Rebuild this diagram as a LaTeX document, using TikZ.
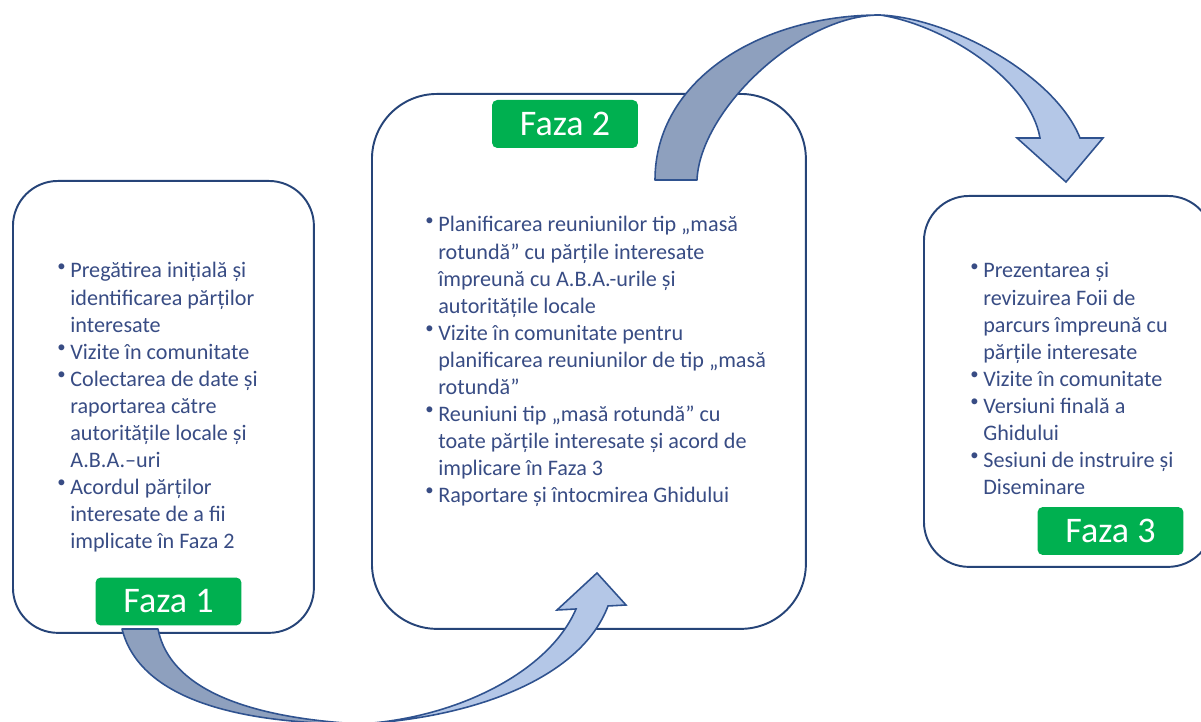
\documentclass[tikz,border=0pt]{standalone}
\usepackage{fontspec}
\setmainfont{Carlito}
\usetikzlibrary{positioning}
\definecolor{frameColor}{RGB}{38,68,120}
\definecolor{arrowLine}{RGB}{47,82,143}
\definecolor{arrowBack}{RGB}{142,160,190}
\definecolor{arrowFront}{RGB}{180,199,231}
\definecolor{phaseGreen}{RGB}{0,176,80}
\definecolor{itemColor}{RGB}{56,76,132}
\tikzstyle{phasebox} = [draw=frameColor, line width=1.1pt, anchor=north west, inner sep=0pt]
\tikzstyle{phaselabel} = [fill=phaseGreen, rounded corners=3pt, text=white, font=\fontsize{20.5}{24}\selectfont, minimum width=2.92cm, minimum height=0.96cm, inner sep=0pt]
\tikzstyle{itemlist} = [anchor=base west, inner sep=0pt, text=itemColor, font=\fontsize{12.6}{15.4}\selectfont]
\tikzstyle{bandback} = [fill=arrowBack, draw=arrowLine, line width=0.9pt, line join=round]
\tikzstyle{bandfront} = [fill=arrowFront, draw=arrowLine, line width=0.9pt]
\newcommand{\pbul}{\makebox[7.4pt][l]{\raisebox{3.8pt}{\fontsize{9.5}{9.5}\selectfont\textbullet}}}

\begin{document}
\begin{tikzpicture}[x=0.02cm, y=-0.02cm]
    \useasboundingbox (0,0) rectangle (1201,722);
    \fill[white] (0,0) rectangle (1201,722);
    \clip (0,0) rectangle (1201,722);

    % Phase boxes
    \node[phasebox, rounded corners=0.9cm, minimum width=6.02cm, minimum height=9.04cm] (box1) at (12,180) {};
    \node[phasebox, rounded corners=1.3cm, minimum width=8.68cm, minimum height=10.7cm] (box2) at (371,93) {};
    \node[phasebox, rounded corners=0.9cm, minimum width=5.78cm, minimum height=7.42cm] (box3) at (923,195) {};

    % Curved arrows
    \filldraw[bandback] (122,629) .. controls (140,700) and (240,724) .. (360,724)
        .. controls (250,718) and (170,690) .. (158,629) -- cycle;
    \filldraw[bandfront] (360,724) .. controls (470,718) and (580,680) .. (608,606)
        -- (626,605) -- (597,573) -- (557,610) -- (576,609)
        .. controls (550,670) and (460,718) .. (360,724) -- cycle;
    \filldraw[bandback] (655,180) .. controls (655,80) and (760,15) .. (880,15)
        .. controls (800,15) and (700,110) .. (697,180) -- cycle;
    \filldraw[bandfront] (880,15) .. controls (950,18) and (1055,75) .. (1080,138)
        -- (1103,138) -- (1066,182) -- (1017,138) -- (1040,138)
        .. controls (1030,80) and (945,25) .. (880,15) -- cycle;

    % Phase labels
    \node[phaselabel] (faza1) at (168.5,601.5) {Faza 1};
    \node[phaselabel] (faza2) at (565,124) {Faza 2};
    \node[phaselabel] (faza3) at (1110.5,531) {Faza 3};

    % Activities
    \node[itemlist] (list1) at (57,278) {\begin{tabular}[t]{@{}l@{}l@{}}
        \pbul & Pregătirea inițială și\\
              & identificarea părților\\
              & interesate\\
        \pbul & Vizite în comunitate\\
        \pbul & Colectarea de date și\\
              & raportarea către\\
              & autoritățile locale și\\
              & A.B.A.–uri\\
        \pbul & Acordul părților\\
              & interesate de a fii\\
              & implicate în Faza 2
    \end{tabular}};
    \node[itemlist] (list2) at (425,232) {\begin{tabular}[t]{@{}l@{}l@{}}
        \pbul & Planificarea reuniunilor tip „masă\\
              & rotundă” cu părțile interesate\\
              & împreună cu A.B.A.-urile și\\
              & autoritățile locale\\
        \pbul & Vizite în comunitate pentru\\
              & planificarea reuniunilor de tip „masă\\
              & rotundă”\\
        \pbul & Reuniuni tip „masă rotundă” cu\\
              & toate părțile interesate și acord de\\
              & implicare în Faza 3\\
        \pbul & Raportare și întocmirea Ghidului
    \end{tabular}};
    \node[itemlist] (list3) at (970,278) {\begin{tabular}[t]{@{}l@{}l@{}}
        \pbul & Prezentarea și\\
              & revizuirea Foii de\\
              & parcurs împreună cu\\
              & părțile interesate\\
        \pbul & Vizite în comunitate\\
        \pbul & Versiuni finală a\\
              & Ghidului\\
        \pbul & Sesiuni de instruire și\\
              & Diseminare
    \end{tabular}};
\end{tikzpicture}
\end{document}
